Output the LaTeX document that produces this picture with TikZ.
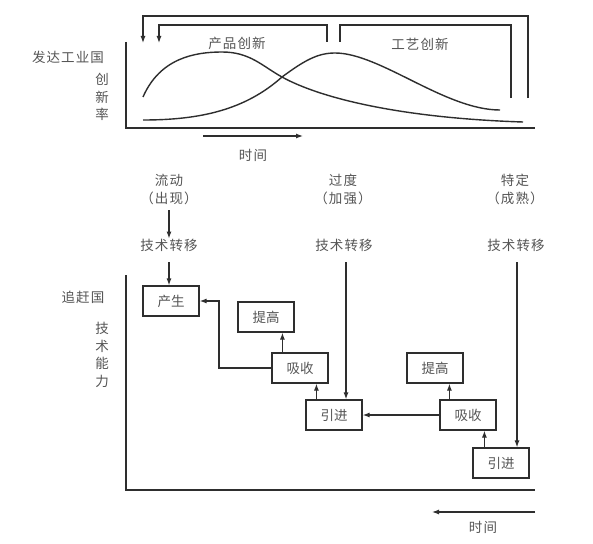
\documentclass[tikz,border=0pt]{standalone}
\usepackage{fontspec}
\setmainfont{Noto Sans CJK SC}
\usetikzlibrary{arrows.meta}
\definecolor{ln}{HTML}{2E2E2E}
\definecolor{tx}{HTML}{555555}
\begin{document}
\begin{tikzpicture}[x=1pt,y=-1pt,
  lbl/.style={text=tx,font=\fontsize{13.5}{17}\selectfont\addfontfeature{LetterSpace=8},inner sep=0pt},
  vlbl/.style={lbl,align=center,font=\fontsize{13.5}{17.5}\selectfont},
  stagebox/.style={draw=ln,line width=1.2pt,minimum width=56pt,minimum height=30pt,inner sep=0pt,text=tx,font=\fontsize{13.5}{17}\selectfont},
  ln/.style={draw=ln,line width=1.2pt},
  arr/.style={ln,-{Latex[length=7pt,width=5pt]}},
  curve/.style={draw=ln,line width=1.4pt}
]
\useasboundingbox (0,0) rectangle (593,543);
\fill[white] (0,0) rectangle (593,543);

% ---------- top chart ----------
\coordinate (o1) at (126,128);
\coordinate (y1) at (126,42);
\coordinate (x1) at (535,128);
\draw[ln] (y1) -- (o1) -- (x1);

\coordinate (ta) at (203,136);
\coordinate (tb) at (303,136);
\draw[arr] (ta) -- (tb);
\node[lbl] (time1) at (253,155) {时间};

\node[lbl] (dev) at (68,57) {发达工业国};
\node[vlbl] (rate) at (102,97) {创\\新\\率};
\node[lbl] (prodl) at (237,43) {产品创新};
\node[lbl] (procl) at (420,44) {工艺创新};

% product curve
\draw[curve] (143,97) .. controls (160,58) and (195,52) .. (222,52)
  .. controls (250,52) and (262,66) .. (282,77)
  .. controls (320,98) and (400,118) .. (523,122);
% process curve
\draw[curve] (143,120) .. controls (200,120) and (245,110) .. (282,77)
  .. controls (305,60) and (318,53) .. (335,53)
  .. controls (380,53) and (445,110) .. (500,110);

% brackets
\coordinate (b1a) at (528,98);
\coordinate (b1b) at (528,16);
\coordinate (b1c) at (143,16);
\coordinate (b1d) at (143,43);
\draw[arr] (b1a) -- (b1b) -- (b1c) -- (b1d);
\coordinate (b2a) at (511,98);
\coordinate (b2b) at (511,25);
\coordinate (b2c) at (340,25);
\coordinate (b2d) at (340,42);
\draw[ln] (b2a) -- (b2b) -- (b2c) -- (b2d);
\coordinate (b3a) at (327,42);
\coordinate (b3b) at (327,25);
\coordinate (b3c) at (159,25);
\coordinate (b3d) at (159,43);
\draw[arr] (b3a) -- (b3b) -- (b3c) -- (b3d);

% ---------- stages ----------
\node[lbl] (s1a) at (169,180) {流动};
\node[lbl] (s1b) at (169,198) {（出现）};
\node[lbl] (s2a) at (343,180) {过度};
\node[lbl] (s2b) at (343,198) {（加强）};
\node[lbl] (s3a) at (515,180) {特定};
\node[lbl] (s3b) at (515,198) {（成熟）};

\node[lbl] (tt1) at (169,245) {技术转移};
\node[lbl] (tt2) at (344,245) {技术转移};
\node[lbl] (tt3) at (516,245) {技术转移};

% ---------- bottom chart ----------
\coordinate (o2) at (126,490);
\coordinate (y2) at (126,275);
\coordinate (x2) at (535,490);
\draw[ln] (y2) -- (o2) -- (x2);

\coordinate (tc) at (535,512);
\coordinate (td) at (432,512);
\draw[arr] (tc) -- (td);
\node[lbl] (time2) at (483,527) {时间};

\node[lbl] (catch) at (83,297) {追赶国};
\node[vlbl] (abil) at (102,355) {技\\术\\能\\力};

\node[stagebox] (cs)  at (171,301) {产生};
\node[stagebox] (tg1) at (266,317) {提高};
\node[stagebox] (xs1) at (300,368) {吸收};
\node[stagebox] (yj1) at (334,415) {引进};
\node[stagebox] (tg2) at (435,368) {提高};
\node[stagebox] (xs2) at (468,415) {吸收};
\node[stagebox] (yj2) at (501,463) {引进};

% connectors
\draw[arr] (169,210) -- (tt1.north -| 169,0);
\draw[arr] (169,262) -- (cs.north -| 169,0);
\draw[arr] (346,262) -- (yj1.north -| 346,0);
\draw[arr] (517,262) -- (yj2.north -| 517,0);

\coordinate (k1) at (219,368);
\draw[arr] (xs1.west) -- (k1) |- (cs.east);
\draw[arr] ([xshift=11pt]xs1.north west) -- ([xshift=11pt]xs1.north west |- tg1.south);
\draw[arr] ([xshift=11pt]yj1.north west) -- ([xshift=11pt]yj1.north west |- xs1.south);
\draw[arr] (xs2.west) -- (yj1.east);
\draw[arr] ([xshift=10pt]xs2.north west) -- ([xshift=10pt]xs2.north west |- tg2.south);
\draw[arr] ([xshift=12pt]yj2.north west) -- ([xshift=12pt]yj2.north west |- xs2.south);
\end{tikzpicture}
\end{document}
